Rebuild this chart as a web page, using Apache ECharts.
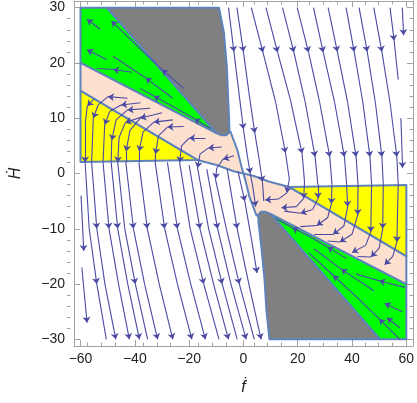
<!DOCTYPE html>
<html>
<head>
<meta charset="utf-8">
<script src="https://cdn.jsdelivr.net/npm/echarts@6/dist/echarts.min.js"></script>
<style>
  html, body { margin: 0; padding: 0; background: #fff; }
  #chart { width: 417px; height: 403px; }
</style>
</head>
<body>
<div id="chart"></div>
<script>
// axis ticks
var xMajor = [-60, -40, -20, 0, 20, 40, 60];
var xMinor = [-55, -50, -45, -35, -30, -25, -15, -10, -5, 5, 10, 15, 25, 30, 35, 45, 50, 55];
var yMajor = [-30, -20, -10, 0, 10, 20, 30];
var yMinor = [-28, -26, -24, -22, -18, -16, -14, -12, -8, -6, -4, -2, 2, 4, 6, 8, 12, 14, 16, 18, 22, 24, 26, 28];

// regions
var grayTop = [[-50.4,30],[-9,30],[-7.2,25.5],[-6.1,19.3],[-5.6,13.3],[-5.2,9],[-5.2,7.4],[-6.5,6.9],[-8,6.9],[-10,7.3]];
var greenTop = [[-60,30],[-50.4,30],[-10,7.3],[-60,20]];
var yellowTop = [[-60,15],[-60,2.1],[-16.9,2.45]];
var pinkTop = [[-60,20],[-10,7.3],[-8,6.9],[-6.5,6.9],[-5.2,7.4],[-4.8,7.6],[-2.2,4.2],[-0.7,1.2],[0,0],[-3.6,0.4],[-9.6,1.5],[-16.9,2.45],[-60,15]];
var grayBottom = [[50.4,-30],[9.6,-30],[8.5,-25],[7.8,-19.4],[6.6,-13.3],[5.6,-9],[5.4,-7.5],[6.5,-6.9],[8,-6.9],[10,-7.3]];
var greenBottom = [[60,-30],[50.4,-30],[10,-7.3],[60,-20]];
var yellowBottom = [[60,-15],[60,-2.1],[16.9,-2.45]];
var pinkBottom = [[60,-20],[10,-7.3],[8,-6.9],[6.5,-6.9],[5.4,-7.5],[4.8,-7.6],[2.2,-4.2],[0.7,-1.2],[0,0],[3.6,-0.4],[9.6,-1.5],[16.9,-2.45],[60,-15]];

// stream lines, in flow order
var greenTopLeft = [
  [[-12,8.1],[-18,9.9],[-26,12.1],[-33,14.0],[-38,15.4]],
  [[-22,15.4],[-30,18.8],[-39,23],[-48.6,27.6]],
  [[-26,13.6],[-36,17.3],[-48,21.2]],
  [[-41,18.3],[-48,18.8],[-54,19.0]],
  [[-50.4,20.6],[-57.6,22.4]],
  [[-52.8,26.1],[-57.6,27.9]]
];
var arcsLeft = [
  [[-55,13.5],[-57.5,12.2],[-58.3,9],[-58.3,2],[-56.8,-10],[-54,-20],[-50.5,-30]],
  [[-42.7,13.6],[-49.9,13.9],[-53.5,12.4],[-55.3,10],[-55.9,2],[-54,-10],[-51,-20],[-47,-30]],
  [[-37.9,12.8],[-45.1,12.4],[-49.3,11.2],[-51.1,8.8],[-51.7,2],[-49.5,-10],[-46,-20],[-42,-30]],
  [[-34.3,11.8],[-42.7,11.5],[-46.9,9.7],[-48.5,6],[-48.7,2],[-46.3,-10],[-42.6,-20],[-38.3,-30]],
  [[-36,10.5],[-43.5,9.2],[-45.8,6.5],[-46.3,2],[-43.7,-10],[-39.8,-20],[-35.3,-30]],
  [[-30,11],[-38,10],[-41.8,7.8],[-43.2,4],[-43.3,2],[-40.5,-10],[-36.4,-20],[-31.6,-30]],
  [[-26,9.7],[-33,9.3],[-37,7.5],[-38.4,4],[-38.5,2],[-35.4,-10],[-31,-20],[-26,-30]],
  [[-22,8.5],[-28,8.4],[-31.3,6.8],[-32.4,3.5],[-32.5,2],[-29,-10],[-24.3,-20],[-19,-30]],
  [[-14,6.4],[-20,6.4],[-22.8,5],[-23.5,2],[-19.6,-10],[-14.6,-20],[-9,-30]],
  [[-8,4.8],[-13,4.6],[-16,3.5],[-16.9,1],[-12.8,-10],[-7.8,-20],[-2.3,-30]],
  [[-3.5,3.2],[-7.5,2.6],[-9.8,1],[-10.3,-1],[-6.3,-10],[-1.5,-20],[4,-30]]
];
var whiteBottomLeft = [
  [[-28,2],[-24.3,-10],[-19.4,-20],[-14,-30]],
  [[-20,1.5],[-16,-10],[-11,-20],[-5.5,-30]],
  [[-13.5,0.8],[-9.5,-10],[-4.6,-20],[1,-30]],
  [[-6,0.8],[-2.3,-10],[2,-20],[6.5,-30]],
  [[-2,0.4],[0.5,-5],[3,-12],[5,-18]],
  [[-59.8,-4],[-58.8,-14]],
  [[-59.5,-17],[-57.6,-27]]
];
var topRight = [
  [[-5.5,30],[-3.5,22],[-1.5,14],[0,8],[1.5,3],[2.5,0],[3.5,-2.5],[4.5,-6]],
  [[-2.4,30],[0,22],[2.2,14],[4.2,7.3],[5.8,2.5],[7,-1.5],[7.5,-5]],
  [[2.9,30],[7.2,21.9],[11.9,12.8],[15.5,3.7],[16.9,-1],[16,-3.5],[13,-4.6],[8,-4.8]],
  [[8.3,30],[12.6,21.9],[17.3,13.3],[21.6,3.6],[22.5,-1.5],[22.2,-4.5],[19.5,-6],[14,-6.2]],
  [[14.4,30],[18.6,21.9],[22.8,12.8],[26.4,3],[27.4,-2],[27.5,-4.5],[25.5,-6.5],[21,-7.2],[15,-6.8]],
  [[19.8,30],[24,21.9],[28.1,12.8],[31.8,3],[32.6,-2],[32.4,-5.5],[31,-8],[27,-9.4],[21,-9.6]],
  [[25.8,30],[29.4,21.9],[33.6,12.8],[37.2,3],[38,-2],[38.4,-6],[37,-9.5],[33,-11],[26,-11]],
  [[31.2,30],[34.6,22],[38.4,12.8],[41.5,3],[42.2,-2],[42.1,-7.5],[40,-11],[35.5,-12.4],[31,-12.2]],
  [[37.8,30],[40.8,22],[44,12.8],[46.6,3],[47.2,-2],[46.9,-10.6],[45,-13],[40,-14.3]],
  [[42.6,30],[45.6,22],[48.6,12.8],[51,3],[51.5,-2],[51.3,-10],[50,-13.5],[47,-15.1],[42,-15]],
  [[48,30],[51,22],[54,12.8],[56.5,3],[57,-2],[56.5,-12.4],[55,-15],[52,-16.5]],
  [[54,30],[55.5,24],[57,17]],
  [[58.5,30],[59,25]],
  [[58,10],[58.6,1]]
];
var greenBottomRight = [
  [[57.6,-30],[50,-26.3],[42,-22.5],[33,-18.4],[24,-14.3]],
  [[59.4,-20.6],[50,-19.4],[41.5,-18.2]],
  [[48,-21.2],[36,-17.3],[26,-13.6]],
  [[38,-15.4],[31,-13.3],[24,-11.3],[18,-9.8],[12,-8.2]],
  [[58.5,-25],[52,-23.5]],
  [[57.6,-27.9],[52.8,-26.1]]
];

var edgeColor = '#5f83ba';
var streamColor = '#4a4aa5';

function regionSeries(pts, fill) {
  return {
    type: 'custom', xAxisIndex: 0, yAxisIndex: 0, silent: true, z: 1,
    data: [[pts[0][0], pts[0][1]]],
    renderItem: function (params, api) {
      return {
        type: 'polygon',
        shape: { points: pts.map(function (p) { return api.coord(p); }) },
        style: { fill: fill, stroke: edgeColor, lineWidth: 2, lineJoin: 'round' }
      };
    }
  };
}

var arrowSegs = [], plainSegs = [];
[greenTopLeft, arcsLeft, whiteBottomLeft, topRight, greenBottomRight].forEach(function (group) {
  group.forEach(function (pts) {
    for (var i = 1; i < pts.length; i++) {
      (i % 2 === 1 ? arrowSegs : plainSegs).push({ coords: [pts[i - 1], pts[i]] });
    }
  });
});

var frameColor = '#a3a3a3';
var labelStyle = { color: '#222', fontSize: 14, fontFamily: 'Liberation Sans' };
function minus(v) { return String(v).replace('-', '\u2212'); }
var gridRect = { left: 67, right: 4, top: 1, bottom: 57 };

function xAx(grid, pos, ticks, len, labels) {
  return {
    type: 'value', gridIndex: grid, position: pos, min: -62.4, max: 62.4,
    axisLine: { show: grid === 0, onZero: false, lineStyle: { color: frameColor, width: 1 } },
    axisTick: { show: true, inside: true, length: len, customValues: ticks, lineStyle: { color: frameColor } },
    axisLabel: labels ? Object.assign({ customValues: ticks, formatter: minus, margin: 6 }, labelStyle) : { show: false },
    splitLine: { show: false }
  };
}
function yAx(grid, pos, ticks, len, labels) {
  return {
    type: 'value', gridIndex: grid, position: pos, min: -31.2, max: 31.2,
    axisLine: { show: grid === 0, onZero: false, lineStyle: { color: frameColor, width: 1 } },
    axisTick: { show: true, inside: true, length: len, customValues: ticks, lineStyle: { color: frameColor } },
    axisLabel: labels ? Object.assign({ customValues: ticks, formatter: minus, margin: 9 }, labelStyle) : { show: false },
    splitLine: { show: false }
  };
}

var xMain = xAx(0, 'bottom', xMajor, 6, true);
xMain.name = '\u1E1F';
xMain.nameLocation = 'middle';
xMain.nameGap = 34;
xMain.nameTextStyle = { fontSize: 16, fontStyle: 'italic', fontFamily: 'Liberation Sans', color: '#222' };
var yMain = yAx(0, 'left', yMajor, 6, true);
yMain.name = '\u1E22';
yMain.nameLocation = 'middle';
yMain.nameGap = 50;
yMain.nameRotate = 90;
yMain.nameTextStyle = { fontSize: 16, fontStyle: 'italic', fontFamily: 'Liberation Sans', color: '#222' };

var chart = echarts.init(document.getElementById('chart'));
chart.setOption({
  animation: false,
  backgroundColor: '#fff',
  grid: [gridRect, gridRect],
  xAxis: [xMain, xAx(0, 'top', xMajor, 6, false), xAx(1, 'bottom', xMinor, 3.5, false), xAx(1, 'top', xMinor, 3.5, false)],
  yAxis: [yMain, yAx(0, 'right', yMajor, 6, false), yAx(1, 'left', yMinor, 3.5, false), yAx(1, 'right', yMinor, 3.5, false)],
  series: [
    regionSeries(grayTop, '#808080'),
    regionSeries(greenTop, '#00ff00'),
    regionSeries(yellowTop, '#ffff00'),
    regionSeries(pinkTop, '#fde0cd'),
    regionSeries(grayBottom, '#808080'),
    regionSeries(greenBottom, '#00ff00'),
    regionSeries(yellowBottom, '#ffff00'),
    regionSeries(pinkBottom, '#fde0cd'),
    {
      type: 'lines', coordinateSystem: 'cartesian2d', xAxisIndex: 0, yAxisIndex: 0,
      silent: true, z: 3, data: plainSegs, symbol: 'none',
      lineStyle: { color: streamColor, width: 1.1, opacity: 1 }
    },
    {
      type: 'lines', coordinateSystem: 'cartesian2d', xAxisIndex: 0, yAxisIndex: 0,
      silent: true, z: 3, data: arrowSegs, symbol: ['none', 'arrow'], symbolSize: 6,
      lineStyle: { color: streamColor, width: 1.1, opacity: 1 }
    }
  ]
});
</script>
</body>
</html>
